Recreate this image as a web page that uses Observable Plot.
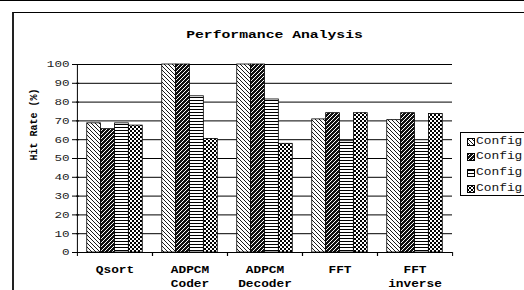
<!DOCTYPE html>
<html><head><meta charset="utf-8">
<script src="https://cdn.jsdelivr.net/npm/d3@7"></script>
<script src="https://cdn.jsdelivr.net/npm/@observablehq/plot@0.6"></script>
<style>
html,body{margin:0;padding:0;background:#fff;}
#wrap{position:relative;width:524px;height:290px;overflow:hidden;font-family:"Courier New","Nimbus Mono PS","FreeMono",Courier,"Liberation Mono",monospace;}
#topline{position:absolute;left:0;top:0;width:524px;height:1px;background:#000;}
#frame{position:absolute;left:12px;top:12px;width:700px;height:400px;border-top:1px solid #000;border-left:2px solid #222;}
#chart{position:absolute;left:0;top:0;}
#legend{position:absolute;left:460px;top:132px;width:90px;height:62px;border:1px solid #000;background:#fff;}
.row{position:absolute;left:0;height:15px;width:64px;}
.row svg{position:absolute;left:6px;top:4px;}
.row span{position:absolute;left:15px;top:0px;font-size:11px;line-height:15px;color:#111;white-space:nowrap;display:inline-block;transform:scaleX(1.17);transform-origin:0 50%;}
</style>
</head><body>
<svg width="0" height="0" style="position:absolute">
  <defs>
    <pattern id="p1" width="4" height="4" patternUnits="userSpaceOnUse">
      <rect width="4" height="4" fill="#fff"/>
      <path d="M-1,-1L5,5M-1,3L1,5M3,-1L5,1" stroke="#000" stroke-width="0.9"/>
    </pattern>
    <pattern id="p2" width="4" height="4" patternUnits="userSpaceOnUse">
      <rect width="4" height="4" fill="#111"/>
      <path d="M-1,5L5,-1M-1,1L1,-1M3,5L5,3" stroke="#fff" stroke-width="1"/>
    </pattern>
    <pattern id="p3" width="3" height="3" patternUnits="userSpaceOnUse">
      <rect width="3" height="3" fill="#fff"/>
      <rect y="1" width="3" height="1" fill="#000"/>
    </pattern>
    <pattern id="p4" width="4" height="4" patternUnits="userSpaceOnUse">
      <rect width="4" height="4" fill="#fff"/>
      <rect width="2" height="2" fill="#000"/>
      <rect x="2" y="2" width="2" height="2" fill="#000"/>
    </pattern>
  </defs>
</svg>
<div id="wrap">
  <div id="topline"></div>
  <div id="frame"></div>
  <div id="chart"></div>
  <div id="legend"></div>
</div>
<script>
const categories = ["Qsort", "ADPCM\nCoder", "ADPCM\nDecoder", "FFT", "FFT\ninverse"];
const configs = ["Config 1", "Config 2", "Config 3", "Config 4"];
const legendLabels = ["Config", "Config", "Config", "Config"]; // as visible in the picture
const config1 = [68.7, 100, 100, 70.8, 70.4];
const config2 = [65.6, 100, 100, 74.1, 74.1];
const config3 = [68.7, 83.1, 81.4, 59.2, 58.3];
const config4 = [67.5, 60.4, 57.8, 74.1, 73.7];
const yTicks = [0, 10, 20, 30, 40, 50, 60, 70, 80, 90, 100];
const titleText = "Performance Analysis";
const yLabel = "Hit Rate (%)";
const patterns = ["url(#p1)", "url(#p2)", "url(#p3)", "url(#p4)"];

const series = [config1, config2, config3, config4];
const data = categories.flatMap((c, i) => series.map((s, j) => ({category: c, config: configs[j], value: s[i]})));

const W = 524, H = 290, mL = 76, mR = 72, mT = 64, mB = 38;
const bw = (W - mL - mR) / categories.length;
const sub = d3.scaleBand(configs, [0, bw]).paddingInner(0).paddingOuter(0.7);

const bars = configs.map((cfg, j) => Plot.barY(data.filter(d => d.config === cfg), {
  x: "category", y: "value", fill: patterns[j], stroke: "#000", strokeWidth: 0.8,
  insetLeft: sub(cfg), insetRight: bw - sub(cfg) - sub.bandwidth()
}));

const FONT = '"Courier New","Nimbus Mono PS","FreeMono",Courier,"Liberation Mono",monospace';

const chart = Plot.plot({
  width: W, height: H,
  marginLeft: mL, marginRight: mR, marginTop: mT, marginBottom: mB,
  style: {fontFamily: FONT, fontSize: "9px", background: "transparent", color: "#000"},
  x: {domain: categories, padding: 0},
  y: {domain: [0, 100]},
  marks: [
    Plot.gridY({ticks: yTicks, stroke: "#000", strokeOpacity: 1}),
    ...bars,
    Plot.ruleY([0], {stroke: "#000"}),
    Plot.ruleX([categories[0]], {x: d => d, y1: 0, y2: 100, dx: -bw / 2, stroke: "#000"}),
    Plot.axisX({tickSize: 4, fill: "none", dx: -bw / 2, label: null}),
    Plot.axisX({tickSize: 4, fill: "none", dx: bw / 2, label: null}),
    Plot.axisX({tickSize: 0, tickPadding: 11, fontWeight: "bold", fontSize: 10, lineHeight: 1.37, label: null}),
    Plot.axisY({ticks: yTicks, tickSize: 7, dx: 3, tickPadding: 3, fontSize: 9, fill: "#222", label: null}),
    Plot.text([titleText], {text: d => d, frameAnchor: "top", dy: -34.5, dx: 10, fontWeight: "bold", fontSize: 11.5}),
    Plot.text([yLabel], {text: d => d, frameAnchor: "left", rotate: -90, dx: -43, dy: 2, fontWeight: "bold", fontSize: 10})
  ]
});
document.getElementById("chart").appendChild(chart);

function stretch(sel, f) {
  chart.querySelectorAll(sel).forEach(t => {
    const spans = t.querySelectorAll("tspan");
    const els = spans.length ? Array.from(spans) : [t];
    els.forEach(el => {
      const L = el.getComputedTextLength();
      if (L > 0) {
        el.setAttribute("textLength", L * f);
        el.setAttribute("lengthAdjust", "spacingAndGlyphs");
      }
    });
  });
}
stretch('g[aria-label="y-axis tick label"] text', 1.4);
stretch('g[aria-label="x-axis tick label"] text', 1.28);
chart.querySelectorAll('g[aria-label="text"] text').forEach(t => {
  if (t.textContent === titleText) {
    const L = t.getComputedTextLength();
    t.setAttribute("textLength", L * 1.28);
    t.setAttribute("lengthAdjust", "spacingAndGlyphs");
  }
});

const legend = document.getElementById("legend");
configs.forEach((cfg, j) => {
  const row = document.createElement("div");
  row.className = "row";
  row.style.top = (0.5 + j * 15.7) + "px";
  row.innerHTML = `<svg width="8" height="8"><rect x="0.5" y="0.5" width="7" height="7" fill="${patterns[j]}" stroke="#000" stroke-width="1"/></svg><span>${legendLabels[j]}</span>`;
  legend.appendChild(row);
});
</script>
</body></html>
